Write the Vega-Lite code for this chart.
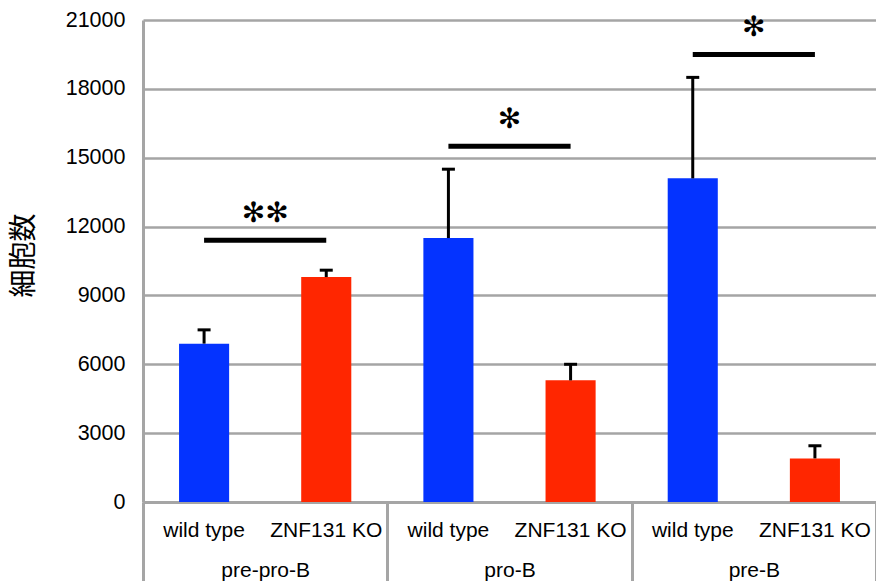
{
  "$schema": "https://vega.github.io/schema/vega-lite/v6.json",
  "width": 733,
  "height": 482,
  "autosize": {"type": "none"},
  "padding": {"left": 143, "top": 20, "right": 0, "bottom": 79},
  "background": "white",
  "config": {
    "view": {"stroke": null},
    "font": "Liberation Sans",
    "axis": {"labelFont": "Liberation Sans", "labelColor": "#000000"}
  },
  "datasets": {
    "bars": [
      {"group": "pre-pro-B", "condition": "wild type", "bar": "pre-pro-B|wild type", "value": 6900, "upper": 7500},
      {"group": "pre-pro-B", "condition": "ZNF131 KO", "bar": "pre-pro-B|ZNF131 KO", "value": 9800, "upper": 10100},
      {"group": "pro-B", "condition": "wild type", "bar": "pro-B|wild type", "value": 11500, "upper": 14500},
      {"group": "pro-B", "condition": "ZNF131 KO", "bar": "pro-B|ZNF131 KO", "value": 5300, "upper": 6000},
      {"group": "pre-B", "condition": "wild type", "bar": "pre-B|wild type", "value": 14100, "upper": 18500},
      {"group": "pre-B", "condition": "ZNF131 KO", "bar": "pre-B|ZNF131 KO", "value": 1900, "upper": 2450}
    ],
    "sig": [
      {"group": "pre-pro-B", "from": "pre-pro-B|wild type", "to": "pre-pro-B|ZNF131 KO", "y": 11400, "label": "✻✻"},
      {"group": "pro-B", "from": "pro-B|wild type", "to": "pro-B|ZNF131 KO", "y": 15500, "label": "✻"},
      {"group": "pre-B", "from": "pre-B|wild type", "to": "pre-B|ZNF131 KO", "y": 19500, "label": "✻"}
    ]
  },
  "layer": [
    {
      "data": {"name": "bars"},
      "layer": [
        {
          "mark": {"type": "bar", "width": {"band": 0.41}},
          "encoding": {
            "x": {
              "field": "bar",
              "type": "nominal",
              "scale": {
                "domain": ["pre-pro-B|wild type", "pre-pro-B|ZNF131 KO", "pro-B|wild type", "pro-B|ZNF131 KO", "pre-B|wild type", "pre-B|ZNF131 KO"],
                "paddingInner": 0,
                "paddingOuter": 0
              },
              "axis": {
                "orient": "bottom",
                "title": null,
                "labelExpr": "split(datum.label, '|')[1]",
                "labelAngle": 0,
                "labelFontSize": 21,
                "labelPadding": 17,
                "ticks": false,
                "domain": true,
                "domainColor": "#a5a5a5",
                "domainWidth": 3,
                "grid": false
              }
            },
            "y": {
              "field": "value",
              "type": "quantitative",
              "scale": {"domain": [0, 21000], "nice": false},
              "axis": {
                "title": "細胞数",
                "titleFont": "Noto Sans CJK JP",
                "titleFontSize": 28,
                "titleFontWeight": "normal",
                "titleColor": "#000000",
                "titlePadding": 27,
                "titleY": 235,
                "values": [0, 3000, 6000, 9000, 12000, 15000, 18000, 21000],
                "format": "d",
                "labelFontSize": 21.5,
                "labelPadding": 18,
                "labelBaseline": "middle",
                "ticks": false,
                "domain": true,
                "domainColor": "#a5a5a5",
                "domainWidth": 3,
                "grid": true,
                "gridColor": "#a5a5a5",
                "gridWidth": 2.5,
                "gridOpacity": 1
              }
            },
            "color": {
              "field": "condition",
              "type": "nominal",
              "scale": {"domain": ["wild type", "ZNF131 KO"], "range": ["#0433FF", "#FF2600"]},
              "legend": null
            }
          }
        },
        {
          "mark": {"type": "rule", "strokeWidth": 3, "color": "#000000"},
          "encoding": {
            "x": {"field": "bar", "type": "nominal"},
            "y": {"field": "value", "type": "quantitative"},
            "y2": {"field": "upper"}
          }
        },
        {
          "mark": {"type": "tick", "size": 13, "thickness": 3, "color": "#000000", "opacity": 1},
          "encoding": {
            "x": {"field": "bar", "type": "nominal"},
            "y": {"field": "upper", "type": "quantitative"}
          }
        },
        {
          "data": {"name": "sig"},
          "mark": {"type": "rule", "strokeWidth": 5, "color": "#000000"},
          "encoding": {
            "x": {"field": "from", "type": "nominal"},
            "x2": {"field": "to"},
            "y": {"field": "y", "type": "quantitative"}
          }
        }
      ]
    },
    {
      "data": {"name": "sig"},
      "mark": {"type": "text", "font": "DejaVu Sans", "fontSize": 28, "baseline": "middle", "align": "center", "dy": -26, "color": "#000000"},
      "encoding": {
        "x": {
          "field": "group",
          "type": "nominal",
          "scale": {"domain": ["pre-pro-B", "pro-B", "pre-B"], "paddingInner": 0, "paddingOuter": 0},
          "axis": {
            "orient": "bottom",
            "title": null,
            "labelAngle": 0,
            "labelFontSize": 21,
            "labelPadding": -22,
            "ticks": true,
            "tickBand": "extent",
            "tickSize": 79,
            "tickColor": "#a5a5a5",
            "tickWidth": 3,
            "domain": false,
            "grid": false
          }
        },
        "y": {"field": "y", "type": "quantitative"},
        "text": {"field": "label"}
      }
    }
  ],
  "resolve": {"scale": {"x": "independent"}, "axis": {"x": "independent"}}
}
